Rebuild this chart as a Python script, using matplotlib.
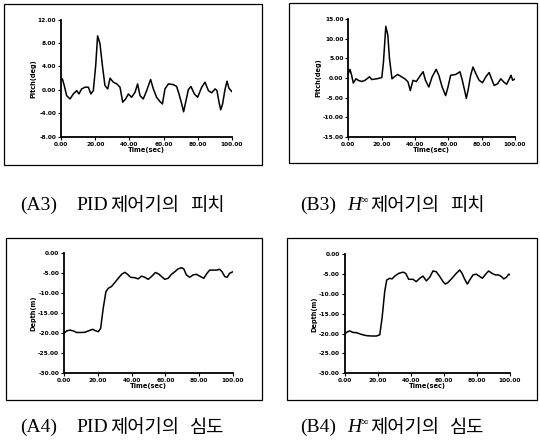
import matplotlib
matplotlib.use("Agg")
import matplotlib.pyplot as plt
from matplotlib.patches import Rectangle

# ---------------- data ----------------
a3_t = [0, 0.8, 1.9, 3.3, 5.3, 7.2, 9.2, 10.5, 12.1, 14.0, 16.0, 17.5, 18.9, 20.3, 21.4, 22.8,
        24.2, 25.7, 27.3, 28.7, 30.6, 32.6, 34.5, 36.1, 37.8, 39.4, 41.3, 43.3, 44.8, 46.2,
        48.1, 50.1, 52.4, 54.0, 55.9, 57.9, 59.3, 60.8, 62.8, 65.7, 67.6, 69.0, 70.6, 71.7,
        72.9, 74.5, 76.0, 78.0, 79.9, 82.3, 84.2, 86.2, 88.1, 90.1, 91.2, 92.4, 93.4, 94.5,
        95.9, 97.1, 98.2, 99.4, 100]
a3_v = [1.78, 1.9, 0.74, -0.98, -1.55, -0.69, -0.12, -0.69, 0.17, 0.46, 0.46, -0.69, -0.12,
        4.19, 9.24, 7.9, 4.19, 0.74, 0.17, 2.0, 1.32, 1.03, 0.46, -2.1, -1.55, -0.69, -1.26,
        -0.4, 1.03, -0.98, -1.55, -0.12, 1.78, 0.17, -1.26, -2.0, -2.4, 0.17, 1.03, 0.9, 0.6,
        -0.69, -2.4, -3.74, -2.1, 0.06, 0.57, -0.69, -1.26, 0.46, 1.32, -0.12, -0.5, 0.17,
        -0.12, -2.1, -3.4, -2.4, 0.06, 1.49, 0.29, -0.12, -0.3]

b3_t = [0, 1, 2, 3, 4.6, 6, 8, 10, 12.7, 14.1, 17.1, 20.1, 21.1, 22.5, 23.7, 24.7, 26.2, 27.6,
        29.6, 31.6, 34.2, 35.8, 37.2, 38.8, 40.8, 43.3, 44.9, 46.3, 48.3, 50.3, 52.7, 54.3,
        56.3, 58.4, 59.8, 61.4, 64.4, 67.0, 68.4, 69.8, 70.8, 72.0, 73.4, 74.8, 76.5, 78.5,
        80.5, 82.5, 84.5, 85.9, 87.5, 89.5, 91.5, 93.2, 95.0, 96.6, 97.6, 98.6, 99.6]
b3_v = [1.1, 2.2, 0.7, -1.3, -0.2, -0.6, -0.9, -0.6, 0.3, -0.4, -0.2, 0.1, 4.1, 13.2, 11.0,
        5.0, -0.2, 0.3, 0.9, 0.4, -0.3, -1.0, -3.2, -0.6, -0.9, 0.7, 1.6, -0.6, -2.3, 0.3,
        2.2, 0.7, -2.3, -4.5, -2.3, 0.7, 0.9, 1.6, -0.6, -3.2, -5.2, -2.8, 0.7, 2.8, 1.1,
        -0.6, -1.2, 0.3, 1.4, -0.2, -1.9, -1.5, -0.2, -1.0, -1.6, -0.2, 0.7, -0.6, -0.3]

a4_t = [0, 1.6, 3.5, 5.5, 7.5, 9.4, 12.4, 14.4, 17.0, 18.3, 20.3, 21.7, 23.2, 24.8, 26.2, 28.1,
        30.1, 32.1, 34.1, 36.0, 37.6, 39.4, 41.9, 43.9, 45.9, 47.8, 49.8, 51.8, 54.1, 56.1,
        57.7, 59.6, 61.6, 63.6, 65.6, 67.5, 69.5, 70.9, 72.4, 74.4, 76.4, 78.3, 80.3, 82.7,
        84.6, 86.2, 88.6, 90.2, 92.1, 93.5, 95.1, 96.5, 98.0, 100]
a4_v = [-20, -19.4, -19.2, -19.4, -19.8, -19.8, -19.75, -19.4, -19.0, -19.3, -19.6, -18.75,
        -13.75, -9.6, -8.75, -8.3, -7.3, -6.25, -5.25, -4.75, -5.25, -6.0, -6.1, -6.4, -5.7,
        -6.0, -6.5, -5.8, -4.8, -5.2, -5.8, -6.5, -6.25, -5.25, -4.6, -3.9, -3.6, -3.9, -5.4,
        -6.0, -5.4, -5.25, -5.7, -6.25, -5.0, -4.2, -4.2, -4.2, -4.0, -4.6, -5.8, -6.0, -5.0,
        -4.6]

b4_t = [0, 1, 3, 5, 7.1, 10.1, 13.1, 16.1, 19.2, 21.2, 22.6, 24.2, 25.4, 27.2, 28.6, 30.6,
        32.7, 35.3, 36.9, 38.7, 41.3, 43.3, 45.4, 47.4, 49.4, 51.4, 53.4, 55.4, 57.5, 59.5,
        60.9, 62.5, 64.9, 67.5, 69.6, 71.0, 72.6, 74.2, 75.6, 77.6, 79.6, 81.7, 83.3, 85.3,
        87.1, 89.1, 91.1, 93.1, 94.8, 96.2, 97.8, 99.2, 100]
b4_v = [-20.2, -19.7, -19.3, -19.7, -19.75, -20.2, -20.5, -20.6, -20.6, -20.3, -16.1, -9.4,
        -6.5, -6.05, -6.2, -5.4, -4.8, -4.5, -4.8, -6.3, -6.3, -6.9, -6.05, -5.5, -6.7, -5.8,
        -4.2, -4.4, -5.6, -6.9, -7.5, -7.1, -6.05, -4.8, -3.95, -4.8, -6.3, -7.5, -6.5, -5.2,
        -5.0, -5.6, -6.05, -5.0, -4.2, -4.8, -5.2, -5.2, -5.6, -6.2, -5.8, -5.0, -5.2]

x_ticks = [0, 20, 40, 60, 80, 100]
x_ticklabels = ["0.00", "20.00", "40.00", "60.00", "80.00", "100.00"]
a3_yticks = [12, 8, 4, 0, -4, -8]
b3_yticks = [15, 10, 5, 0, -5, -10, -15]
depth_yticks = [0, -5, -10, -15, -20, -25, -30]

captions = [
    ["(A3)", "PID", "제어기의", "피치"],
    ["(B3)", "H", "제어기의", "피치"],
    ["(A4)", "PID", "제어기의", "심도"],
    ["(B4)", "H", "제어기의", "심도"],
]

# ---------------- layout ----------------
W, H = 540, 444
fig = plt.figure(figsize=(W / 100, H / 100), dpi=100)
fig.patch.set_facecolor("white")


def rect(left, top, right, bottom):
    return [left / W, 1 - bottom / H, (right - left) / W, (bottom - top) / H]


def box(left, top, right, bottom):
    fig.add_artist(Rectangle((left / W, 1 - bottom / H), (right - left) / W,
                             (bottom - top) / H, transform=fig.transFigure,
                             fill=False, lw=0.9, ec="black"))


panels = [
    (rect(61, 19.7, 232, 136.7), a3_t, a3_v, a3_yticks, (-8, 12), "Pitch(deg)"),
    (rect(348.3, 19.3, 515, 136.7), b3_t, b3_v, b3_yticks, (-15, 15), "Pitch(deg)"),
    (rect(64, 253.3, 233, 373.3), a4_t, a4_v, depth_yticks, (-30, 0), "Depth(m)"),
    (rect(344.7, 254.3, 510, 373.3), b4_t, b4_v, depth_yticks, (-30, 0), "Depth(m)"),
]

box(4, 4, 262, 165)
box(289, 3, 537, 163)
box(6, 238, 262, 400)
box(287, 238, 537, 400)

for pos, t, v, yt, ylim, ylab in panels:
    ax = fig.add_axes(pos)
    ax.plot(t, v, color="black", lw=1.1)
    ax.set_xlim(0, 100)
    ax.set_ylim(*ylim)
    ax.set_xticks(x_ticks)
    ax.set_xticklabels(x_ticklabels)
    ax.set_yticks(yt)
    ax.set_yticklabels(["%.2f" % y for y in yt])
    for s in ("top", "right"):
        ax.spines[s].set_visible(False)
    for s in ("left", "bottom"):
        ax.spines[s].set_linewidth(1.3)
    ax.tick_params(direction="out", length=2, width=0.8, pad=1.5,
                   labelsize=4.2)
    for lab in ax.get_xticklabels() + ax.get_yticklabels():
        lab.set_fontweight("bold")
    ax.set_xlabel("Time(sec)", fontsize=4.8, fontweight="bold", labelpad=0)
    ax.set_ylabel(ylab, fontsize=4.8, fontweight="bold", labelpad=1)
    ax.patch.set_alpha(0)

# ---------------- captions ----------------
latin = ["Liberation Serif", "DejaVu Serif"]
korean = ["Noto Sans CJK KR", "DejaVu Sans"]

cap_pos = [(20, 205), (300, 205), (20, 427), (300, 427)]
for (x0, yc), (lab, mid, kr1, kr2) in zip(cap_pos, captions):
    ty = 1 - yc / H
    fig.text(x0 / W, ty, lab, family=latin, fontsize=14, va="center", ha="left")
    if mid == "PID":
        fig.text((x0 + 56) / W, ty, mid, family=latin, fontsize=14,
                 va="center", ha="left")
        kx = x0 + 90
    else:
        fig.text((x0 + 47) / W, ty, mid, family=latin, fontsize=14,
                 style="italic", va="center", ha="left")
        fig.text((x0 + 61) / W, ty + 5 / H, "∞", family=latin, fontsize=7.5,
                 va="center", ha="left")
        kx = x0 + 70
    fig.text(kx / W, ty, kr1, family=korean, fontsize=13.5, va="center",
             ha="left")
    fig.text((kx + 80) / W, ty, kr2, family=korean, fontsize=13.5,
             va="center", ha="left")

fig.savefig("out.png", dpi=100, facecolor="white")
